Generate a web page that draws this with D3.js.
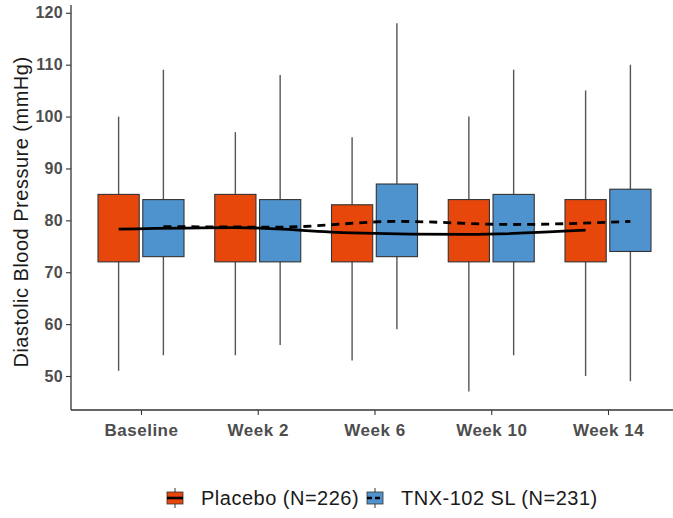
<!DOCTYPE html>
<html>
<head>
<meta charset="utf-8">
<script src="https://cdn.jsdelivr.net/npm/d3@7"></script>
<style>
  body { margin: 0; background: #fff; }
  svg { font-family: "Liberation Sans", Arial, sans-serif; }
</style>
</head>
<body>
<svg id="chart" width="673" height="518"></svg>
<script>
// visits along the x axis
var visits = ["Baseline", "Week 2", "Week 6", "Week 10", "Week 14"];
var groups = ["Placebo (N=226)", "TNX-102 SL (N=231)"];
var groupColors = ["#E8470C", "#4F93CE"];

// box stats per visit (whisker low, q1, q3, whisker high)
var placeboLow  = [51, 54, 53, 47, 50];
var placeboQ1   = [72, 72, 72, 72, 72];
var placeboQ3   = [85, 85, 83, 84, 84];
var placeboHigh = [100, 97, 96, 100, 105];

var tnxLow  = [54, 56, 59, 54, 49];
var tnxQ1   = [73, 72, 73, 72, 74];
var tnxQ3   = [84, 84, 87, 85, 86];
var tnxHigh = [109, 108, 118, 109, 110];

// mean lines
var placeboMean = [78.3, 78.6, 77.6, 77.3, 78.1];
var tnxMean     = [78.8, 78.7, 79.8, 79.2, 79.8];

var yTicks = [50, 60, 70, 80, 90, 100, 110, 120];

var svg = d3.select("#chart");

var x = d3.scalePoint().domain(visits).range([141, 608]);
var dodge = d3.scaleBand().domain(groups).range([-43, 43]).paddingInner(0.08);
var y = d3.scaleLinear().domain([43.45, 121.5]).range([410, 5]);
var bw = dodge.bandwidth();

var seriesList = [
    { name: groups[0], color: groupColors[0], low: placeboLow, q1: placeboQ1, q3: placeboQ3, high: placeboHigh, mean: placeboMean, dash: null },
    { name: groups[1], color: groupColors[1], low: tnxLow, q1: tnxQ1, q3: tnxQ3, high: tnxHigh, mean: tnxMean, dash: "8,6" }
];

// flatten into one row per box
var boxes = [];
seriesList.forEach(function (s) {
    visits.forEach(function (v, i) {
        boxes.push({ visit: v, group: s.name, color: s.color, low: s.low[i], q1: s.q1[i], q3: s.q3[i], high: s.high[i] });
    });
});
function cxOf(d) { return x(d.visit) + dodge(d.group) + bw / 2; }

// axes
var yAxis = svg.append("g")
    .attr("transform", "translate(71,0)")
    .call(d3.axisLeft(y).tickValues(yTicks).tickSize(5).tickPadding(3));
var xAxis = svg.append("g")
    .attr("transform", "translate(0,410)")
    .call(d3.axisBottom(x).tickSize(5).tickPadding(5));

[yAxis, xAxis].forEach(function (a) {
    a.select(".domain").remove();
    a.selectAll(".tick line").attr("stroke", "#333").attr("stroke-width", 1.1);
    a.selectAll(".tick text")
        .attr("fill", "#4d4d4d")
        .style("font-weight", "bold");
});
yAxis.selectAll(".tick text").style("font-size", "16px").style("letter-spacing", "0.3px");
xAxis.selectAll(".tick text")
    .style("font-size", "17px")
    .style("letter-spacing", "0.5px")
    .attr("dy", "0.95em");

svg.append("line").attr("x1", 71).attr("x2", 71).attr("y1", 5).attr("y2", 410)
    .attr("stroke", "#333").attr("stroke-width", 1.3);
svg.append("line").attr("x1", 71).attr("x2", 673).attr("y1", 410).attr("y2", 410)
    .attr("stroke", "#333").attr("stroke-width", 1.3);

svg.append("text")
    .attr("transform", "translate(28,212) rotate(-90)")
    .attr("text-anchor", "middle")
    .attr("fill", "#1a1a1a")
    .style("font-size", "20px")
    .style("letter-spacing", "0.5px")
    .text("Diastolic Blood Pressure (mmHg)");

// whiskers then boxes
svg.append("g").selectAll("line.whisker")
    .data(boxes)
    .join("line")
    .attr("class", "whisker")
    .attr("x1", cxOf).attr("x2", cxOf)
    .attr("y1", function (d) { return y(d.high); })
    .attr("y2", function (d) { return y(d.low); })
    .attr("stroke", "#555").attr("stroke-width", 1.4);

svg.append("g").selectAll("rect.box")
    .data(boxes)
    .join("rect")
    .attr("class", "box")
    .attr("x", function (d) { return cxOf(d) - bw / 2; })
    .attr("width", bw)
    .attr("y", function (d) { return y(d.q3); })
    .attr("height", function (d) { return y(d.q1) - y(d.q3); })
    .attr("fill", function (d) { return d.color; })
    .attr("stroke", "#333").attr("stroke-width", 1.1);

// mean lines
var meanLine = d3.line().curve(d3.curveMonotoneX);
seriesList.forEach(function (s) {
    var pts = visits.map(function (v, i) {
        return [x(v) + dodge(s.name) + bw / 2, y(s.mean[i])];
    });
    svg.append("path")
        .attr("d", meanLine(pts))
        .attr("fill", "none")
        .attr("stroke", "#000")
        .attr("stroke-width", 2.8)
        .attr("stroke-dasharray", s.dash);
});

// legend
var legend = svg.append("g").attr("transform", "translate(0,498)");
var legX = [167, 367];
seriesList.forEach(function (s, i) {
    var lg = legend.append("g").attr("transform", "translate(" + legX[i] + ",0)");
    lg.append("line").attr("x1", 8).attr("x2", 8).attr("y1", -10).attr("y2", 10)
        .attr("stroke", "#555").attr("stroke-width", 1.2);
    lg.append("rect").attr("x", 0).attr("y", -6).attr("width", 16).attr("height", 12)
        .attr("fill", s.color).attr("stroke", "#333").attr("stroke-width", 0.8);
    lg.append("line").attr("x1", 0).attr("x2", 16).attr("y1", 0).attr("y2", 0)
        .attr("stroke", "#000").attr("stroke-width", 2.6)
        .attr("stroke-dasharray", s.dash ? "5,3" : null);
    lg.append("text").attr("x", 34).attr("y", 0).attr("dy", "0.36em")
        .attr("fill", "#1a1a1a")
        .style("font-size", "20px")
        .style("letter-spacing", "0.5px")
        .text(s.name);
});
</script>
</body>
</html>
